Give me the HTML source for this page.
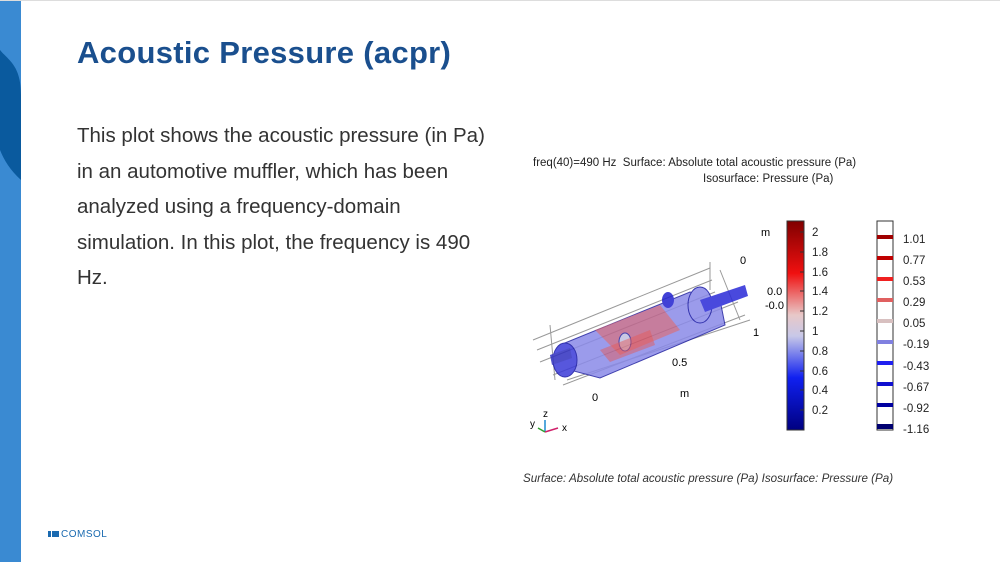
<!DOCTYPE html>
<html><head><style>
body{margin:0;width:1000px;height:562px;overflow:hidden;background:#fff;position:relative;font-family:"Liberation Sans",sans-serif}
.t{position:absolute;white-space:nowrap}
</style></head><body>
<svg width="1000" height="562" style="position:absolute;left:0;top:0">
<defs>
<linearGradient id="cb" x1="0" y1="1" x2="0" y2="0">
<stop offset="0" stop-color="#000080"/><stop offset="0.25" stop-color="#1020f0"/><stop offset="0.45" stop-color="#c8c8e8"/><stop offset="0.55" stop-color="#e8c8c8"/><stop offset="0.75" stop-color="#f01010"/><stop offset="1" stop-color="#800000"/>
</linearGradient>
</defs>
<rect x="0" y="0" width="21" height="562" fill="#3a8ad2"/>
<path d="M0 50 C8 60 21 65 21 95 L21 180 C10 170 4 160 0 150 Z" fill="#0a5a9e"/>
<rect x="0" y="0" width="1000" height="1" fill="#ddd"/>
<g stroke="#999" stroke-width="1" fill="none">
<line x1="533" y1="340" x2="710" y2="268"/><line x1="537" y1="350" x2="712" y2="280"/><line x1="540" y1="362" x2="715" y2="292"/>
<line x1="553" y1="375" x2="738" y2="302"/><line x1="563" y1="385" x2="745" y2="315"/><line x1="567" y1="380" x2="750" y2="320"/>
<line x1="710" y1="262" x2="710" y2="290"/><line x1="720" y1="270" x2="740" y2="320"/><line x1="550" y1="325" x2="555" y2="380"/>
</g>
<g opacity="0.85">
<polygon points="560,345 690,292 720,300 725,325 600,378 570,370" fill="#8a8ae8" stroke="#2020a0"/>
<ellipse cx="565" cy="360" rx="12" ry="17" fill="#3a3ad8" stroke="#1010a0"/>
<ellipse cx="700" cy="305" rx="12" ry="18" fill="#8a8ae8" stroke="#1010a0"/>
<polygon points="700,300 745,285 748,296 705,312" fill="#2a2ad8"/>
<polygon points="550,355 570,348 572,358 552,365" fill="#3030c0"/>
<polygon points="595,330 660,305 680,330 620,355" fill="#e05050" opacity="0.6"/>
<ellipse cx="668" cy="300" rx="6" ry="8" fill="#2020d0"/>
<ellipse cx="625" cy="342" rx="6" ry="9" fill="#c0c0e0" stroke="#2020a0"/>
<polygon points="600,350 650,330 655,345 610,362" fill="#e04040" opacity="0.5"/>
</g>
<rect x="787" y="221" width="17" height="209" fill="url(#cb)" stroke="#333"/>
<g stroke="#333"><line x1="800" y1="232" x2="804" y2="232"/><line x1="800" y1="252" x2="804" y2="252"/><line x1="800" y1="272" x2="804" y2="272"/><line x1="800" y1="291" x2="804" y2="291"/><line x1="800" y1="311" x2="804" y2="311"/><line x1="800" y1="331" x2="804" y2="331"/><line x1="800" y1="351" x2="804" y2="351"/><line x1="800" y1="371" x2="804" y2="371"/><line x1="800" y1="390" x2="804" y2="390"/><line x1="800" y1="410" x2="804" y2="410"/></g>
<rect x="877" y="221" width="16" height="209" fill="#fff" stroke="#333"/>
<g>
<rect x="877" y="235" width="16" height="4" fill="#a00000"/><rect x="877" y="256" width="16" height="4" fill="#c00000"/><rect x="877" y="277" width="16" height="4" fill="#f02020"/><rect x="877" y="298" width="16" height="4" fill="#e06060"/><rect x="877" y="319" width="16" height="4" fill="#d8c0c0"/><rect x="877" y="340" width="16" height="4" fill="#8080e0"/><rect x="877" y="361" width="16" height="4" fill="#2020f0"/><rect x="877" y="382" width="16" height="4" fill="#1010d0"/><rect x="877" y="403" width="16" height="4" fill="#0000a0"/><rect x="877" y="424" width="16" height="5" fill="#000070"/>
</g>
<line x1="545" y1="432" x2="545" y2="420" stroke="#1a8ad0" stroke-width="1.5"/>
<line x1="545" y1="432" x2="558" y2="428" stroke="#d0206a" stroke-width="1.5"/>
<line x1="545" y1="432" x2="538" y2="428" stroke="#30a030" stroke-width="1.5"/>
<rect x="48" y="531" width="3" height="6" fill="#1a6ab0"/><rect x="52" y="531" width="7" height="6" fill="#1a6ab0"/>
</svg>
<div class="t" style="left:77px;top:35px;font-size:31px;font-weight:bold;color:#1a4f8e;letter-spacing:0.3px">Acoustic Pressure (acpr)</div>
<div class="t" style="left:77px;top:118px;font-size:20.5px;line-height:35.5px;color:#333;white-space:normal;width:412px">This plot shows the acoustic pressure (in Pa) in an automotive muffler, which has been analyzed using a frequency-domain simulation. In this plot, the frequency is 490 Hz.</div>
<div class="t" style="left:533px;top:157px;font-size:11.5px;color:#222">freq(40)=490 Hz &nbsp;Surface: Absolute total acoustic pressure (Pa)</div>
<div class="t" style="left:703px;top:173px;font-size:11.5px;color:#222">Isosurface: Pressure (Pa)</div>
<div style="position:absolute;left:812px;top:224px;font-size:11.5px;line-height:19.8px;color:#222">2<br>1.8<br>1.6<br>1.4<br>1.2<br>1<br>0.8<br>0.6<br>0.4<br>0.2</div>
<div style="position:absolute;left:903px;top:230px;font-size:11.5px;line-height:21.1px;color:#222">1.01<br>0.77<br>0.53<br>0.29<br>0.05<br>-0.19<br>-0.43<br>-0.67<br>-0.92<br>-1.16</div>
<div class="t" style="left:761px;top:227px;font-size:11px">m</div>
<div class="t" style="left:740px;top:255px;font-size:11px">0</div>
<div class="t" style="left:767px;top:286px;font-size:11px">0.0</div>
<div class="t" style="left:765px;top:300px;font-size:11px">-0.0</div>
<div class="t" style="left:753px;top:327px;font-size:11px">1</div>
<div class="t" style="left:672px;top:357px;font-size:11px">0.5</div>
<div class="t" style="left:680px;top:388px;font-size:11px">m</div>
<div class="t" style="left:592px;top:392px;font-size:11px">0</div>
<div class="t" style="left:543px;top:409px;font-size:10px">z</div>
<div class="t" style="left:530px;top:419px;font-size:10px">y</div>
<div class="t" style="left:562px;top:423px;font-size:10px">x</div>
<div class="t" style="left:523px;top:472px;font-size:11.6px;font-style:italic;color:#333">Surface: Absolute total acoustic pressure (Pa) Isosurface: Pressure (Pa)</div>
<div class="t" style="left:61px;top:529px;font-size:10px;color:#1a6ab0;letter-spacing:0.5px">COMSOL</div>
</body></html>
